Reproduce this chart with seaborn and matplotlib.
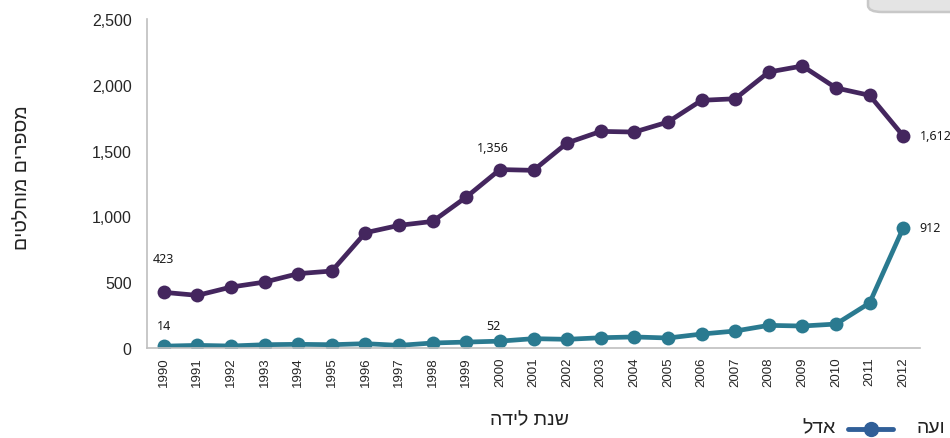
import matplotlib
matplotlib.use('Agg')
import matplotlib.pyplot as plt
import seaborn as sns
import pandas as pd
from matplotlib.patches import FancyBboxPatch

# Data
years = list(range(1990, 2013))
purple_vals = [423, 400, 463, 501, 565, 585, 876, 932, 962, 1147, 1356, 1350,
               1558, 1646, 1641, 1717, 1882, 1894, 2097, 2143, 1976, 1920, 1612]
teal_vals = [14, 20, 15, 25, 28, 25, 33, 20, 38, 45, 52, 71,
             66, 78, 84, 76, 106, 129, 172, 167, 182, 342, 912]
y_ticks = [0, 500, 1000, 1500, 2000, 2500]

purple = '#44265e'
teal = '#2a7a90'
heb = ['Liberation Sans', 'DejaVu Sans']


def rtl(s):
    # matplotlib has no bidi support, so reverse Hebrew text
    return s[::-1]


df = pd.DataFrame({
    'year': years * 2,
    'value': purple_vals + teal_vals,
    'series': ['a'] * len(years) + ['b'] * len(years),
})

sns.set_style('white')
fig = plt.figure(figsize=(9.5, 4.39), dpi=100)
ax = fig.add_axes([147 / 950, 1 - 349 / 439, (920 - 147) / 950, (349 - 20) / 439])

sns.lineplot(data=df, x='year', y='value', hue='series',
             palette={'a': purple, 'b': teal}, marker='o', markersize=10,
             markeredgewidth=0, linewidth=3.4, legend=False, ax=ax)

ax.set_xlim(1989.5, 2012.5)
ax.set_ylim(0, 2500)
ax.set_yticks(y_ticks)
ax.set_yticklabels([f'{v:,}' for v in y_ticks], fontsize=11.5, family='Liberation Sans')
ax.set_xticks(years)
ax.set_xticklabels([str(y) for y in years], rotation=90, fontsize=9.5, family='Liberation Sans')
ax.set_xticks([y + 0.5 for y in range(1989, 2013)], minor=True)
ax.tick_params(axis='x', which='major', length=0, pad=6)
ax.tick_params(axis='x', which='minor', length=5, color='#bfbfbf', direction='out')
ax.tick_params(axis='y', length=5, color='#bfbfbf', direction='out', pad=6)
ax.set_xlabel('')
ax.set_ylabel('')

for side in ['top', 'right']:
    ax.spines[side].set_visible(False)
for side in ['left', 'bottom']:
    ax.spines[side].set_color('#bfbfbf')
    ax.spines[side].set_linewidth(1.2)

# Data labels
lab = dict(fontsize=9, family='Noto Sans', color='#1a1a1a')
ax.annotate(f'{purple_vals[0]:,}', (years[0], purple_vals[0]), xytext=(0, 24),
            textcoords='offset points', ha='center', va='center', **lab)
ax.annotate(f'{teal_vals[0]:,}', (years[0], teal_vals[0]), xytext=(0, 15),
            textcoords='offset points', ha='center', va='center', **lab)
ax.annotate(f'{purple_vals[10]:,}', (years[10], purple_vals[10]), xytext=(-5, 16),
            textcoords='offset points', ha='center', va='center', **lab)
ax.annotate(f'{teal_vals[10]:,}', (years[10], teal_vals[10]), xytext=(-5, 11),
            textcoords='offset points', ha='center', va='center', **lab)
ax.annotate(f'{purple_vals[-1]:,}', (years[-1], purple_vals[-1]), xytext=(12, 0),
            textcoords='offset points', ha='left', va='center', **lab)
ax.annotate(f'{teal_vals[-1]:,}', (years[-1], teal_vals[-1]), xytext=(12, 0),
            textcoords='offset points', ha='left', va='center', **lab)

# Axis titles
fig.text(23 / 950, 1 - 178 / 439, rtl('מספרים מוחלטים'), rotation=90,
         ha='center', va='center', fontsize=14, family=heb, color='#222222')
fig.text(530 / 950, 1 - 421 / 439, rtl('שנת לידה'), ha='center', va='center',
         fontsize=14, family=heb, color='#222222')

# Partial legend at the bottom right
fig.text(836 / 950, 1 - 429 / 439, rtl('אדל'), ha='right', va='center',
         fontsize=14, family=heb, color='#222222')
fig.add_artist(plt.Line2D([848 / 950, 893 / 950], [1 - 430 / 439, 1 - 430 / 439],
                          color='#305f98', linewidth=3.5,
                          transform=fig.transFigure))
fig.add_artist(plt.Line2D([871 / 950], [1 - 430 / 439], color='#305f98',
                          marker='o', markersize=10, linestyle='none',
                          transform=fig.transFigure))
fig.text(917 / 950, 1 - 429 / 439, rtl('ועה'), ha='left', va='center',
         fontsize=14, family=heb, color='#222222')

# Grey rounded box fragment at the top right
fig.add_artist(FancyBboxPatch((868 / 950, 1 - 13 / 439), 0.2, 0.1,
                              boxstyle='round,pad=0,rounding_size=0.015',
                              transform=fig.transFigure, facecolor='#e4e4e4',
                              edgecolor='#c8c8c8', linewidth=1.8))

fig.savefig('out.png', dpi=100)
